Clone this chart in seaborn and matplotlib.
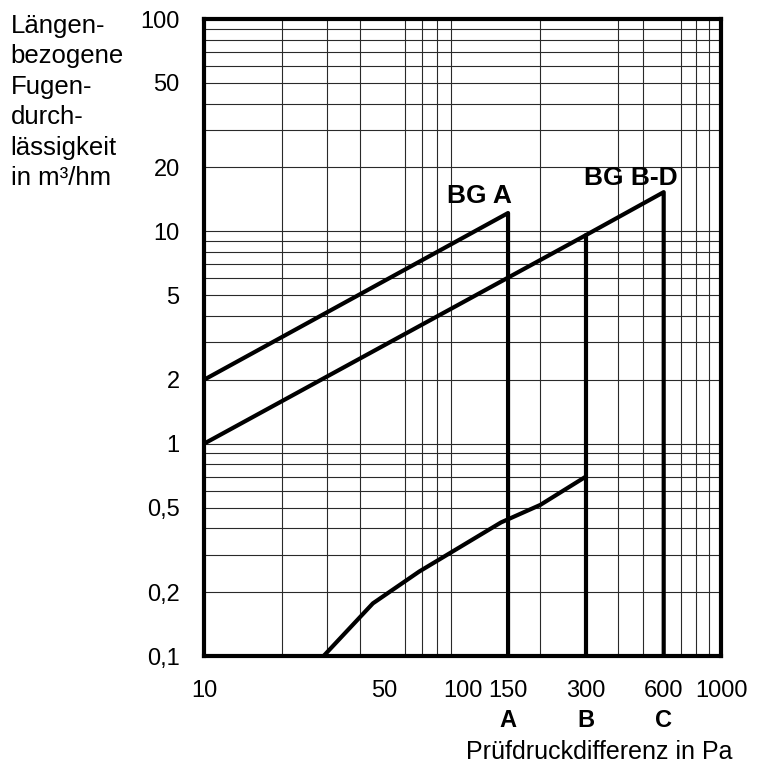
import numpy as np
import pandas as pd
import matplotlib
matplotlib.use("Agg")
from matplotlib import pyplot as plt
from matplotlib.ticker import FixedLocator, FixedFormatter, LogLocator, NullFormatter
import seaborn as sns

# Values (log-log)
bg_a_x = [10, 150, 150]
bg_a_y = [2.0, 12.2, 0.1]

bg_bd_x = [10, 300, 600, 600]
bg_bd_y = [1.0, 9.6, 15.3, 0.1]

drop_b_x = [300, 300]
drop_b_y = [9.6, 0.1]

low_x = [29, 45, 68, 141, 200, 300]
low_y = [0.1, 0.177, 0.25, 0.426, 0.515, 0.70]

x_ticks = [10, 50, 100, 150, 300, 600, 1000]
x_tick_labels = ["10", "50", "100", "150", "300", "600", "1000"]
class_ticks = [150, 300, 600]
class_labels = ["A", "B", "C"]
y_ticks = [0.1, 0.2, 0.5, 1, 2, 5, 10, 20, 50, 100]
y_tick_labels = ["0,1", "0,2", "0,5", "1", "2", "5", "10", "20", "50", "100"]

sns.set_theme(style="white")
plt.rcParams['font.family'] = ['Liberation Sans', 'DejaVu Sans']
plt.rcParams['text.color'] = 'black'
plt.rcParams['xtick.color'] = 'black'
plt.rcParams['ytick.color'] = 'black'

fig = plt.figure(figsize=(7.57, 7.68), dpi=100)
ax = fig.add_axes([0.2695, 0.1458, 0.683, 0.8294])

line_kw = dict(color="black", linewidth=3.0, sort=False, estimator=None, ax=ax, legend=False)
sns.lineplot(data=pd.DataFrame({"x": bg_a_x, "y": bg_a_y}), x="x", y="y", **line_kw)
sns.lineplot(data=pd.DataFrame({"x": bg_bd_x, "y": bg_bd_y}), x="x", y="y", **line_kw)
sns.lineplot(data=pd.DataFrame({"x": drop_b_x, "y": drop_b_y}), x="x", y="y", **line_kw)
sns.lineplot(data=pd.DataFrame({"x": low_x, "y": low_y}), x="x", y="y", **line_kw)

ax.set_xscale("log")
ax.set_yscale("log")
ax.set_xlim(10, 1000)
ax.set_ylim(0.1, 100)

ax.xaxis.set_major_locator(FixedLocator(x_ticks))
ax.xaxis.set_major_formatter(FixedFormatter(x_tick_labels))
ax.xaxis.set_minor_locator(LogLocator(base=10, subs=np.arange(2, 10)))
ax.xaxis.set_minor_formatter(NullFormatter())
ax.yaxis.set_major_locator(FixedLocator(y_ticks))
ax.yaxis.set_major_formatter(FixedFormatter(y_tick_labels))
ax.yaxis.set_minor_locator(LogLocator(base=10, subs=np.arange(1, 10)))
ax.yaxis.set_minor_formatter(NullFormatter())

ax.grid(which="minor", color="#2a2a2a", linewidth=0.8)
ax.grid(which="major", axis="y", color="#2a2a2a", linewidth=0.8)
ax.tick_params(which="major", direction="inout", length=13, width=2.8,
               color="black", labelsize=17, labelcolor="black", pad=11)
ax.tick_params(which="minor", length=0)
ax.set_xlabel("")
ax.set_ylabel("")

for sp in ax.spines.values():
    sp.set_visible(True)
    sp.set_color("black")
    sp.set_linewidth(3.0)

# class letters under the pressure ticks
for xv, lab in zip(class_ticks, class_labels):
    ax.text(xv, -0.1005, lab, transform=ax.get_xaxis_transform(), ha="center", va="center",
            fontsize=17, fontweight="bold", color="black")

ax.text(155, 13.6, "BG A", ha="right", va="baseline", fontsize=19, fontweight="bold", color="black")
ax.text(680, 16.6, "BG B-D", ha="right", va="baseline", fontsize=19, fontweight="bold", color="black")

ax.text(1.022, -0.150, "Prüfdruckdifferenz in Pa", transform=ax.transAxes,
        ha="right", va="center", fontsize=18, color="black")

fig.text(0.014, 0.982, "Längen-\nbezogene\nFugen-\ndurch-\nlässigkeit\nin m³/hm",
         ha="left", va="top", fontsize=18.5, linespacing=1.34, color="black")

fig.savefig("out.png", dpi=100)
plt.close(fig)
